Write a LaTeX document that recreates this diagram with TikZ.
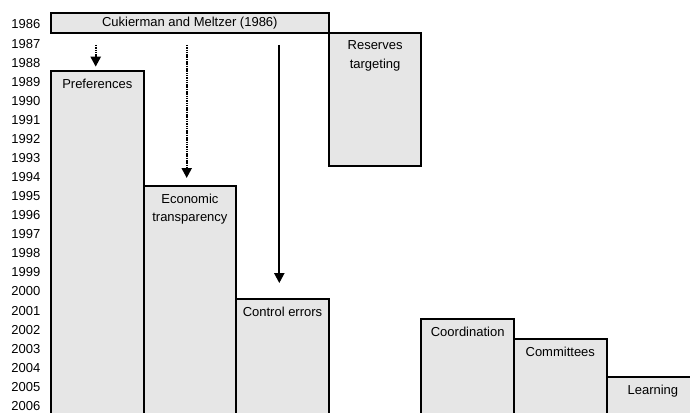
\documentclass[tikz,border=0pt]{standalone}
\usepackage{fontspec}
\setmainfont{Liberation Sans}
\usetikzlibrary{arrows.meta}
\definecolor{mygray}{RGB}{230,230,230}

\begin{document}
\begin{tikzpicture}[x=1pt, y=-1pt,
    every node/.style={font=\fontsize{13}{18.6}\selectfont},
    yearlbl/.style={anchor=east, inner sep=0pt},
    topicbox/.style={draw, line width=2pt, fill=mygray, anchor=north west,
        inner sep=0pt, outer sep=0pt, minimum width=92.6pt},
    boxtitle/.style={anchor=north, align=center, inner sep=3pt, yshift=-5pt},
    dotarrow/.style={line width=2.2pt, dash pattern=on 1.5pt off 0.8pt,
        -{Triangle[length=10pt, width=10pt]}},
    fullarrow/.style={line width=2pt, -{Triangle[length=10pt, width=10pt]}}]
    \useasboundingbox (0, 0) rectangle (690, 412);
    \clip (0, 0) rectangle (690, 412);
    % Years down the left side.
    \foreach \yr [count=\k from 0] in {1986,...,2006}
        \node[yearlbl] (y\yr) at (40.5, {24.5 + 19.07*\k}) {\yr};
    % The paper that starts it all.
    \node[topicbox, minimum width=277.6pt, minimum height=19.4pt] (cukierman)
        at (51, 13.3) {Cukierman and Meltzer (1986)};
    % Strands of the literature, one column each.
    \node[topicbox, minimum height=350pt] (pref) at (51, 70.7) {};
    \node[boxtitle] (preftxt) at (pref.north) {Preferences};
    \node[topicbox, minimum height=240pt] (econ) at (143.6, 185.7) {};
    \node[boxtitle] (econtxt) at (econ.north) {Economic\\transparency};
    \node[topicbox, minimum height=130pt] (ctrl) at (236.2, 299.1) {};
    \node[boxtitle] (ctrltxt) at (ctrl.north) {Control errors};
    \node[topicbox, minimum height=133pt] (reserves) at (328.8, 32.7) {};
    \node[boxtitle] (reservestxt) at (reserves.north) {Reserves\\targeting};
    \node[topicbox, minimum height=110pt] (coord) at (421.4, 319) {};
    \node[boxtitle] (coordtxt) at (coord.north) {Coordination};
    \node[topicbox, minimum height=90pt] (committees) at (514, 339) {};
    \node[boxtitle] (committeestxt) at (committees.north) {Committees};
    \node[topicbox, minimum height=50pt] (learning) at (606.6, 376.7) {};
    \node[boxtitle] (learningtxt) at (learning.north) {Learning};
    % Arrows from the first paper.
    \coordinate (p1) at (95.7, 0);
    \coordinate (p2) at (186.7, 0);
    \coordinate (p3) at (279.3, 0);
    \draw[dotarrow, shorten <=12.3pt, shorten >=4pt]
        (cukierman.south -| p1) -- (pref.north -| p1);
    \draw[dotarrow, shorten <=12.3pt, shorten >=7.7pt]
        (cukierman.south -| p2) -- (econ.north -| p2);
    \draw[fullarrow, shorten <=12.3pt, shorten >=16pt]
        (cukierman.south -| p3) -- (ctrl.north -| p3);
\end{tikzpicture}
\end{document}
